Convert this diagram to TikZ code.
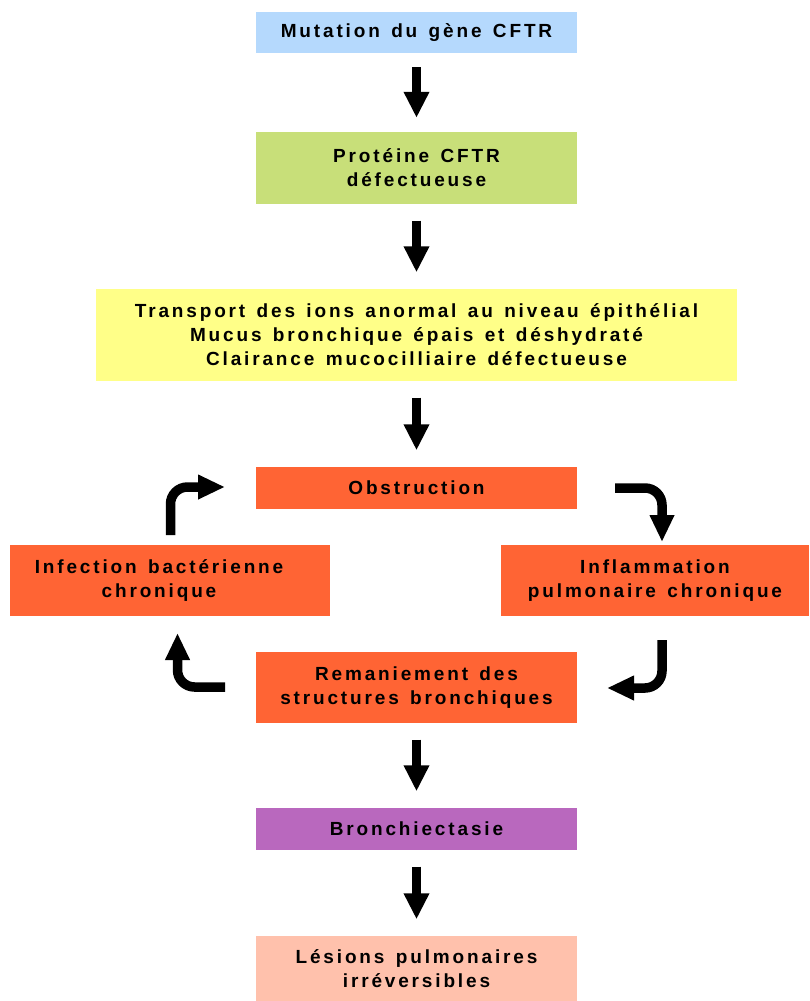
\documentclass[tikz,border=0pt]{standalone}
\usepackage{fontspec}
\setmainfont{Liberation Sans}[LetterSpace=15,WordSpace=1.4]
\usetikzlibrary{arrows.meta,calc}

\definecolor{boxblue}{RGB}{181,217,253}
\definecolor{boxgreen}{RGB}{200,223,121}
\definecolor{boxyellow}{RGB}{255,255,136}
\definecolor{boxorange}{RGB}{255,100,52}
\definecolor{boxpurple}{RGB}{185,104,190}
\definecolor{boxsalmon}{RGB}{255,193,172}

\tikzset{
  stagebox/.style={rectangle, inner sep=0pt, align=center,
    font=\fontsize{19}{24}\selectfont\bfseries},
  darrow/.style={line width=9.5pt,
    -{Triangle[width=24pt,length=26pt]},
    shorten <=#1, shorten >=#1},
  carrow/.style={line width=9.5pt, rounded corners=17pt,
    -{Triangle[width=23pt,length=27pt]}}
}

\begin{document}
\begin{tikzpicture}[x=1pt,y=-1pt]
  \useasboundingbox (0,0) rectangle (809,1001);

  % pathway boxes
  \node[stagebox, fill=boxblue, minimum width=321pt, minimum height=41pt]
    (mut) at (416.5,32.5) {Mutation du gène CFTR};
  \node[stagebox, fill=boxgreen, minimum width=321pt, minimum height=72pt]
    (prot) at (416.5,168) {Protéine CFTR\\défectueuse};
  \node[stagebox, fill=boxyellow, minimum width=641pt, minimum height=92pt]
    (trans) at (416.5,335) {Transport des ions anormal au niveau épithélial\\
      Mucus bronchique épais et déshydraté\\Clairance mucocilliaire défectueuse};
  \node[stagebox, fill=boxorange, minimum width=321pt, minimum height=42pt]
    (obs) at (416.5,488) {Obstruction};
  % text sits a little left of the box centre
  \node[stagebox, fill=boxorange, minimum width=320pt, minimum height=71pt]
    (inf) at (170,580.5) {Infection bactérienne\hspace*{22pt}\\chronique\hspace*{22pt}};
  \node[stagebox, fill=boxorange, minimum width=308pt, minimum height=71pt]
    (infl) at (655,580.5) {Inflammation\\pulmonaire chronique};
  \node[stagebox, fill=boxorange, minimum width=321pt, minimum height=71pt]
    (rem) at (416.5,687.5) {Remaniement des\\structures bronchiques};
  \node[stagebox, fill=boxpurple, minimum width=321pt, minimum height=42pt]
    (bro) at (416.5,829) {Bronchiectasie};
  \node[stagebox, fill=boxsalmon, minimum width=321pt, minimum height=65pt]
    (les) at (416.5,968.5) {Lésions pulmonaires\\irréversibles};

  % straight downward arrows
  \draw[darrow=14pt] (mut.south) -- (prot.north);
  \draw[darrow=16.5pt] (prot.south) -- (trans.north);
  \draw[darrow=16.5pt] (trans.south) -- (obs.north);
  \draw[darrow=16.5pt] (rem.south) -- (bro.north);
  \draw[darrow=16.5pt] (bro.south) -- (les.north);

  % cycle arrows
  \coordinate (ulA) at (170.5,535);
  \coordinate (ulB) at (225,487);
  \coordinate (urA) at (615,488);
  \coordinate (urB) at (662,542);
  \coordinate (lrA) at (662,640);
  \coordinate (lrB) at (607,688);
  \coordinate (llA) at (225,687);
  \coordinate (llB) at (177.5,633);

  \draw[carrow] (ulA) |- (ulB);
  \draw[carrow] (urA) -| (urB);
  \draw[carrow] (lrA) |- (lrB);
  \draw[carrow] (llA) -| (llB);
\end{tikzpicture}
\end{document}
